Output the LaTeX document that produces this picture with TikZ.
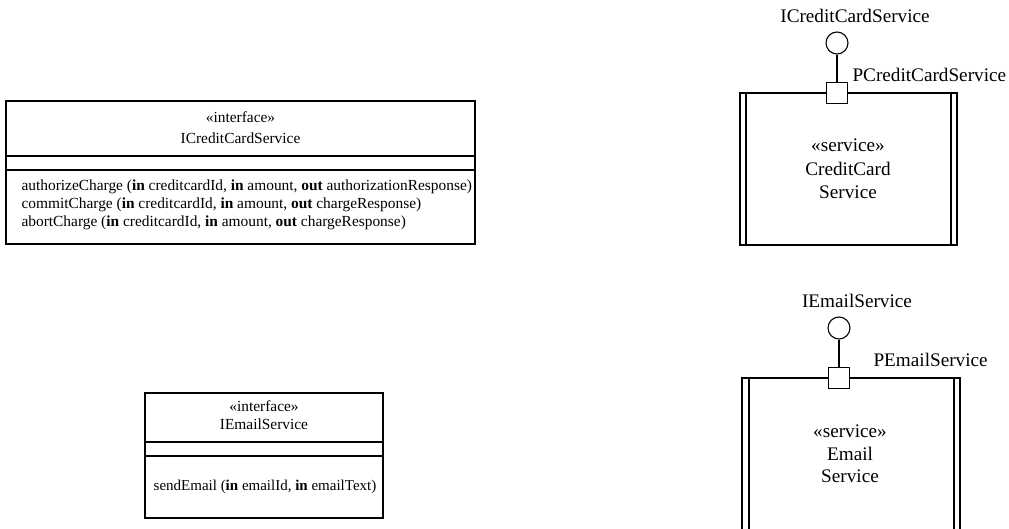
\documentclass[tikz,border=0pt]{standalone}
\usepackage{fontspec}
\setmainfont{Liberation Serif}
\begin{document}
\begin{tikzpicture}[x=1pt,y=-1pt,line width=1.1pt,
  font=\fontsize{15.4}{18}\selectfont,
  txt/.style={inner sep=0pt,align=center},
  bigtxt/.style={inner sep=0pt,align=center,font=\fontsize{19.2}{23.5}\selectfont},
  optxt/.style={inner sep=0pt,align=left,anchor=west},
  iface/.style={draw,circle,minimum size=22pt,inner sep=0pt},
  portbox/.style={draw,fill=white,minimum size=21pt,inner sep=0pt},
  lbl/.style={inner sep=0pt,font=\fontsize{19.2}{23}\selectfont}]
\useasboundingbox (0,0) rectangle (1009,529);
% ---- class ICreditCardService
\draw (6,101) rectangle (475,244);
\draw (6,156) -- (475,156);
\draw (6,170) -- (475,170);
\node[txt,font=\fontsize{15.4}{21}\selectfont] (cchead) at (240.5,128) {«interface»\\ICreditCardService};
\node[optxt] (ccops) at (21,205) {authorizeCharge (\textbf{in} creditcardId, \textbf{in} amount, \textbf{out} authorizationResponse)\\
commitCharge (\textbf{in} creditcardId, \textbf{in} amount, \textbf{out} chargeResponse)\\
abortCharge (\textbf{in} creditcardId, \textbf{in} amount, \textbf{out} chargeResponse)};
% ---- class IEmailService
\draw (145,393) rectangle (383,518);
\draw (145,442) -- (383,442);
\draw (145,456) -- (383,456);
\node[txt] (emhead) at (264,415) {«interface»\\IEmailService};
\node[txt,font=\fontsize{15}{18}\selectfont] (emops) at (265,487) {sendEmail (\textbf{in} emailId, \textbf{in} emailText)};
% ---- component CreditCard Service
\draw (740,93) rectangle (957,245);
\draw (746,93) -- (746,245);
\draw (951,93) -- (951,245);
\node[bigtxt] (ccsvc) at (848,169) {«service»\\CreditCard\\Service};
\node[portbox] (ccport) at (837,93) {};
\node[iface] (ccif) at (837,43) {};
\draw (ccif) -- (ccport);
\node[lbl] (ccifl) at (855,16) {ICreditCardService};
\node[lbl,anchor=west] (ccportl) at (852,75) {PCreditCardService};
% ---- component Email Service
\draw (742,529) -- (742,378) -- (960,378) -- (960,529);
\draw (749,378) -- (749,529);
\draw (954,378) -- (954,529);
\node[bigtxt,font=\fontsize{19.2}{22.5}\selectfont] (emsvc) at (850,454) {«service»\\Email\\Service};
\node[portbox] (emport) at (839,378) {};
\node[iface] (emif) at (839,328) {};
\draw (emif) -- (emport);
\node[lbl] (emifl) at (857,301) {IEmailService};
\node[lbl,anchor=west] (emportl) at (873,360) {PEmailService};
\end{tikzpicture}
\end{document}
